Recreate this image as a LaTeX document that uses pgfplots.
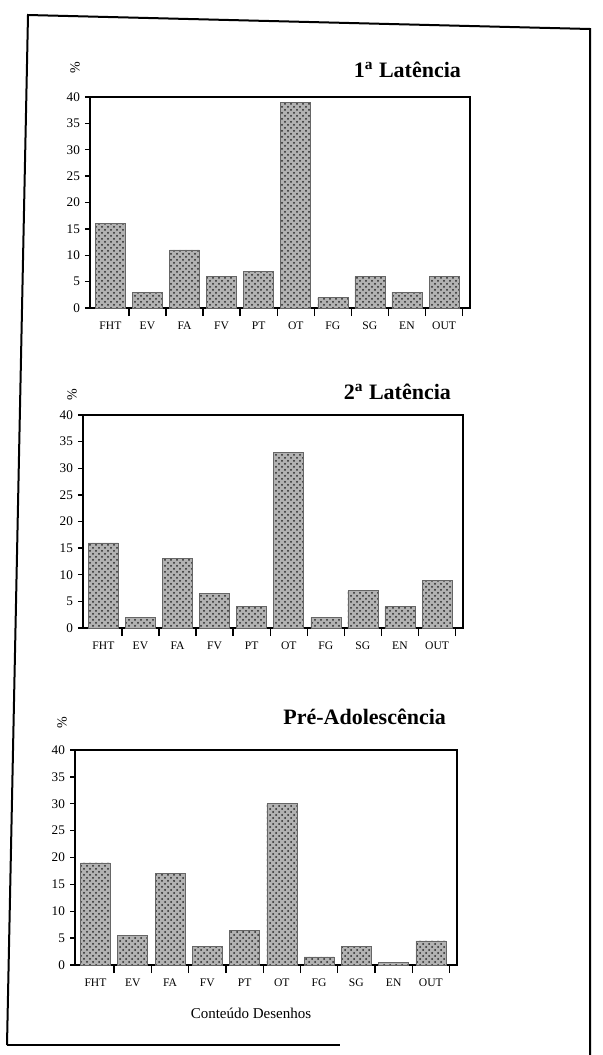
\documentclass[border=0pt]{standalone}
\usepackage{fontspec}
\setmainfont{Liberation Serif}
\usepackage{pgfplots}
\usepackage{pgfplotstable}
\pgfplotsset{compat=1.18}
\usetikzlibrary{patterns}

\pgfplotstableread{
x  p1   p2   p3
0  16   16   19
1  3    2    5.5
2  11   13   17
3  6    6.5  3.5
4  7    4    6.5
5  39   33   30
6  2    2    1.5
7  6    7    3.5
8  3    4    0.5
9  6    9    4.5
}\datatab

\pgfplotsset{
  panel/.style={
    scale only axis,
    width=190pt,
    anchor=south west,
    ymin=0, ymax=40, ytick={0,5,...,40},
    xmin=-0.55, xmax=9.7,
    xtick={0,...,9},
    xticklabels={FHT,EV,FA,FV,PT,OT,FG,SG,EN,OUT},
    minor xtick={0.5,1.5,...,9.5},
    major x tick style={draw=none},
    xtick pos=bottom, ytick pos=left,
    tick align=outside,
    major tick length=2.5pt,
    minor tick length=4pt,
    ybar, bar width=15pt,
    axis line style={line width=0.9pt},
    tick style={black, line width=0.7pt},
    xticklabel style={font=\fontsize{5.8}{6}\selectfont, yshift=-1pt},
    yticklabel style={font=\fontsize{6.6}{7}\selectfont, xshift=1pt},
    /pgf/number format/assume math mode=true,
    clip=false,
  },
  barstyle/.style={draw=black!60, line width=0.3pt, fill=gray!60,
    postaction={pattern=crosshatch dots, pattern color=black!85}},
}

\begin{document}
\begin{tikzpicture}
\useasboundingbox (0pt,0pt) rectangle (301pt,-527.5pt);
% outer frame
\draw[line width=1pt] (3.5pt,-522.5pt) -- (14pt,-7.5pt) -- (295pt,-14.5pt) -- (295pt,-527.5pt);
\draw[line width=1pt] (3.5pt,-522.5pt) -- (170pt,-522.5pt);

% panel 1
\begin{axis}[panel, at={(45pt,-154pt)}, height=105.5pt]
\addplot[barstyle] table[x=x,y=p1]{\datatab};
\end{axis}
\node[anchor=east, font=\bfseries\fontsize{11}{13}\selectfont] at (234pt,-35pt) {1\textsuperscript{a} Latência};
\node[rotate=90, font=\fontsize{7}{8}\selectfont] at (37.5pt,-34pt) {\%};

% panel 2
\begin{axis}[panel, at={(41.5pt,-314pt)}, height=106.5pt]
\addplot[barstyle] table[x=x,y=p2]{\datatab};
\end{axis}
\node[anchor=east, font=\bfseries\fontsize{11}{13}\selectfont] at (229pt,-196pt) {2\textsuperscript{a} Latência};
\node[rotate=90, font=\fontsize{7}{8}\selectfont] at (36pt,-197.5pt) {\%};

% panel 3
\begin{axis}[panel, at={(37.5pt,-482.5pt)}, height=107.5pt, width=191pt]
\addplot[barstyle] table[x=x,y=p3]{\datatab};
\end{axis}
\node[anchor=east, font=\bfseries\fontsize{11}{13}\selectfont] at (226.5pt,-358.5pt) {Pré-Adolescência};
\node[rotate=90, font=\fontsize{7}{8}\selectfont] at (31pt,-361.5pt) {\%};
\node[font=\fontsize{7.5}{9}\selectfont] at (125.5pt,-506.5pt) {Conteúdo Desenhos};
\end{tikzpicture}
\end{document}
